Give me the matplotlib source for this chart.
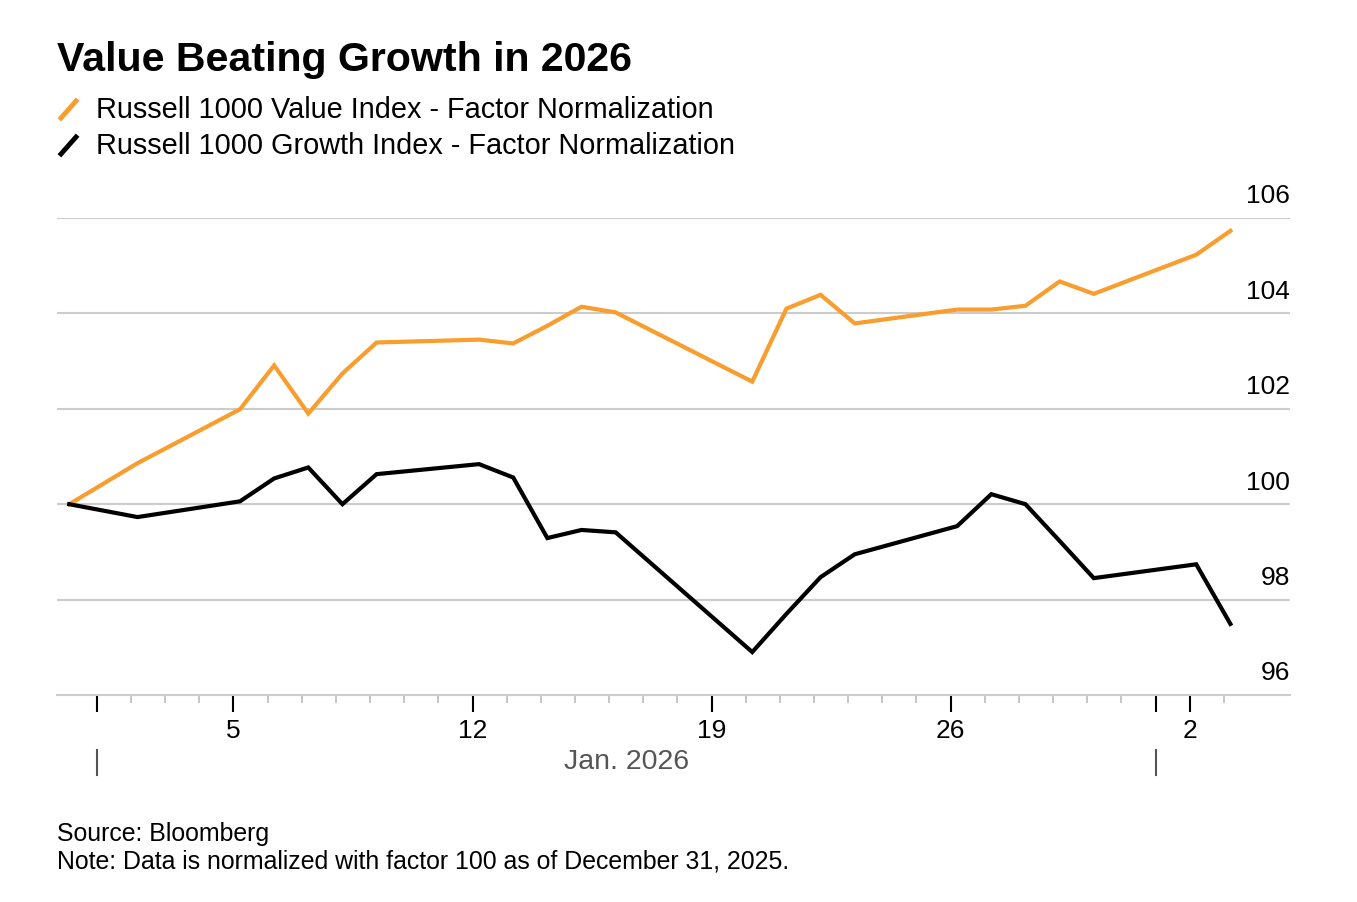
import pandas as pd
import numpy as np
import matplotlib
matplotlib.use("Agg")
import matplotlib.pyplot as plt
import matplotlib.transforms as mtransforms
from matplotlib.lines import Line2D

plt.rcParams['font.family'] = ['Liberation Sans', 'DejaVu Sans']

dates = ["2025-12-31", "2026-01-02", "2026-01-05", "2026-01-06", "2026-01-07",
         "2026-01-08", "2026-01-09", "2026-01-12", "2026-01-13", "2026-01-14",
         "2026-01-15", "2026-01-16", "2026-01-20", "2026-01-21", "2026-01-22",
         "2026-01-23", "2026-01-26", "2026-01-27", "2026-01-28", "2026-01-29",
         "2026-01-30", "2026-02-02", "2026-02-03"]
value_idx = [100.0, 100.86, 101.99, 102.91, 101.90, 102.74, 103.39, 103.45, 103.37, 103.74,
             104.14, 104.02, 102.57, 104.10, 104.39, 103.79, 104.08, 104.08, 104.16, 104.67,
             104.41, 105.23, 105.73]
growth_idx = [100.0, 99.73, 100.06, 100.54, 100.77, 100.0, 100.63, 100.84, 100.56, 99.29,
              99.46, 99.41, 96.90, 97.70, 98.47, 98.95, 99.54, 100.21, 100.0, 99.23,
              98.45, 98.74, 97.49]
y_ticks = [96, 98, 100, 102, 104, 106]
x_major = ["2026-01-01", "2026-01-05", "2026-01-12", "2026-01-19", "2026-01-26", "2026-02-01", "2026-02-02"]
x_major_labels = ["", "5", "12", "19", "26", "", "2"]
month_edges = ["2026-01-01", "2026-02-01"]
month_label = "Jan. 2026"

title = "Value Beating Growth in 2026"
series_names = ["Russell 1000 Value Index - Factor Normalization",
                "Russell 1000 Growth Index - Factor Normalization"]
orange = "#f89d2e"
grid_c = "#cccccc"

x = pd.to_datetime(dates) + pd.Timedelta(hours=4.6)

W, H = 1357, 902
fig = plt.figure(figsize=(W / 100, H / 100), dpi=100)
ax = fig.add_axes([57 / W, 1 - 695 / H, (1290 - 57) / W, (695 - 218) / H])

ax.plot(x, value_idx, color=orange, lw=3, solid_joinstyle='miter', zorder=3)
ax.plot(x, growth_idx, color="black", lw=3, solid_joinstyle='miter', zorder=3)

ax.set_xlim(pd.Timestamp("2025-12-30 20:00"), pd.Timestamp("2026-02-04 22:30"))
ax.set_ylim(96, 106)

for s in ["top", "left", "right"]:
    ax.spines[s].set_visible(False)
ax.spines["bottom"].set_color(grid_c)
ax.spines["bottom"].set_linewidth(1.5)

for v in y_ticks[1:]:
    ax.axhline(v, color=grid_c, lw=1.5, zorder=1)
ax.set_yticks([])
off = mtransforms.offset_copy(ax.get_yaxis_transform(), fig=fig, x=0, y=10.5, units='points')
for v in y_ticks:
    ax.text(1.0, v, str(v), transform=off, ha='right', va='baseline', fontsize=19, color='black')

ax.set_xticks(pd.to_datetime(x_major))
ax.set_xticklabels(x_major_labels)
ax.set_xticks(pd.date_range("2026-01-01", "2026-02-03"), minor=True)
ax.tick_params(axis='x', which='major', length=12, width=1.5, color='black',
               labelsize=19, pad=5, labelcolor='black')
ax.tick_params(axis='x', which='minor', length=6, width=1.2, color='#bbbbbb')

for d in month_edges:
    ax.plot([pd.Timestamp(d)] * 2, [-0.115, -0.168], transform=ax.get_xaxis_transform(),
            color='#555555', lw=1.5, clip_on=False)
mid = pd.Timestamp(month_edges[0]) + (pd.Timestamp(month_edges[1]) - pd.Timestamp(month_edges[0])) / 2
ax.text(mid, -0.14, month_label, transform=ax.get_xaxis_transform(), ha='center', va='center',
        fontsize=20.5, color='#555555')

fig.text(57 / W, 1 - 71 / H, title, fontsize=29.6, fontweight='bold', va='baseline')
for i, (name, c) in enumerate(zip(series_names, [orange, "black"])):
    yb = 118 + 36 * i
    fig.add_artist(Line2D([61 / W, 76 / W], [1 - (yb - 0) / H, 1 - (yb - 17) / H],
                          color=c, lw=3.5, transform=fig.transFigure))
    fig.text(96 / W, 1 - yb / H, name, fontsize=20.8, va='baseline')

fig.text(57 / W, 1 - 841 / H, "Source: Bloomberg", fontsize=17.9, va='baseline')
fig.text(57 / W, 1 - 869 / H, "Note: Data is normalized with factor 100 as of December 31, 2025.",
         fontsize=17.9, va='baseline')

fig.savefig("out.png", dpi=100, facecolor='white')
